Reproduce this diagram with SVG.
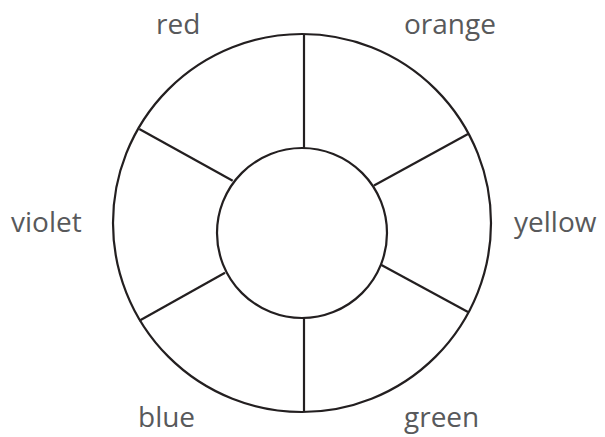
<svg xmlns="http://www.w3.org/2000/svg" width="605" height="437" viewBox="0 0 605 437">
<style>
.ring{fill:none;stroke:#231f20;stroke-width:2.2}
.spoke{stroke:#231f20;stroke-width:2.2;fill:none}
.lbl{font-family:"Open Sans","Liberation Sans",sans-serif;font-size:28px;fill:#58595b}
</style>
<rect width="605" height="437" fill="#fff"/>
<g id="wheel">
<circle id="outer" class="ring" cx="302" cy="223" r="189"/>
<circle id="inner" class="ring" cx="302" cy="233" r="85"/>
</g>
<g id="connectors">
<line class="spoke" x1="304" y1="34.5" x2="304" y2="148"/>
<line class="spoke" x1="304" y1="318" x2="304" y2="411.5"/>
<line class="spoke" x1="139.3" y1="129" x2="232.7" y2="180.7"/>
<line class="spoke" x1="139.3" y1="320.7" x2="225" y2="272.7"/>
<line class="spoke" x1="468" y1="134" x2="374" y2="185.5"/>
<line class="spoke" x1="468" y1="312" x2="380.5" y2="264.5"/>
</g>
<g id="label-red"><text class="lbl" x="156" y="34">red</text></g>
<g id="label-orange"><text class="lbl" x="404" y="34">orange</text></g>
<g id="label-violet"><text class="lbl" x="11" y="232">violet</text></g>
<g id="label-yellow"><text class="lbl" x="514" y="232">yellow</text></g>
<g id="label-blue"><text class="lbl" x="138" y="427">blue</text></g>
<g id="label-green"><text class="lbl" x="404" y="427">green</text></g>
</svg>
